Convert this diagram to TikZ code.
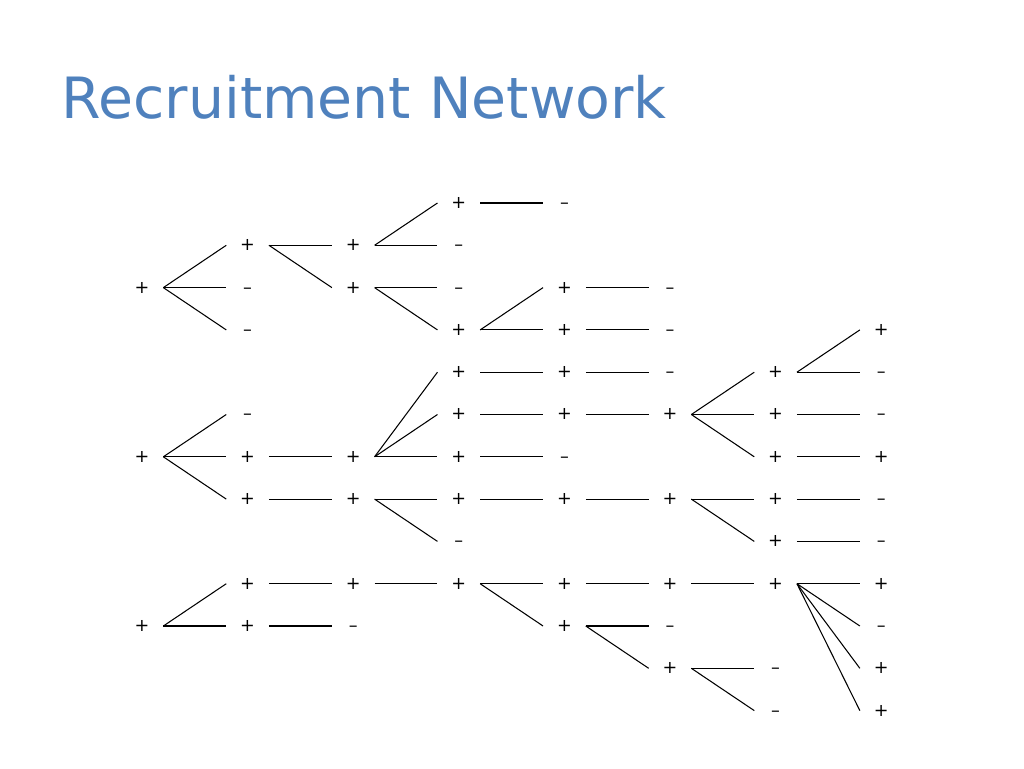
\documentclass[tikz,border=0pt]{standalone}
\usepackage{fontspec}
\setmainfont{DejaVu Sans}
\definecolor{titleblue}{RGB}{79,129,189}
\tikzset{
  sgn/.style={inner sep=0pt, minimum width=0.84cm, text height=0.62em, text depth=0pt, font=\fontsize{10pt}{12pt}\selectfont},
  tie/.style={line width=0.6pt}
}
\begin{document}
\begin{tikzpicture}[x=0.02cm, y=-0.02cm]
\useasboundingbox (0,0) rectangle (1024,768);
\node[anchor=base west, text=titleblue, font=\fontsize{32.4pt}{38pt}\selectfont, inner sep=0pt] (title) at (61,118) {Recruitment Network};
% signs: column/row/sign
\foreach \c/\r/\s in {0/2/+, 0/6/+, 0/10/+,
  1/1/+, 1/2/–, 1/3/–, 1/5/–, 1/6/+, 1/7/+, 1/9/+, 1/10/+,
  2/1/+, 2/2/+, 2/6/+, 2/7/+, 2/9/+, 2/10/–,
  3/0/+, 3/1/–, 3/2/–, 3/3/+, 3/4/+, 3/5/+, 3/6/+, 3/7/+, 3/8/–, 3/9/+,
  4/0/–, 4/2/+, 4/3/+, 4/4/+, 4/5/+, 4/6/–, 4/7/+, 4/9/+, 4/10/+,
  5/2/–, 5/3/–, 5/4/–, 5/5/+, 5/7/+, 5/9/+, 5/10/–, 5/11/+,
  6/4/+, 6/5/+, 6/6/+, 6/7/+, 6/8/+, 6/9/+, 6/11/–, 6/12/–,
  7/3/+, 7/4/–, 7/5/–, 7/6/+, 7/7/–, 7/8/–, 7/9/+, 7/10/–, 7/11/+, 7/12/+}
  \node[sgn] (n\c-\r) at ({142+105.6*\c},{203+42.3*\r}) {\s};
% recruitment ties
\foreach \a/\b in {0-2/1-1, 0-2/1-2, 0-2/1-3, 1-1/2-1, 1-1/2-2, 2-1/3-0, 2-1/3-1,
  2-2/3-2, 2-2/3-3, 3-0/4-0, 3-3/4-2, 3-3/4-3, 4-2/5-2, 4-3/5-3,
  0-6/1-5, 0-6/1-6, 0-6/1-7, 1-6/2-6, 1-7/2-7, 2-6/3-4, 2-6/3-5, 2-6/3-6,
  2-7/3-7, 2-7/3-8, 3-4/4-4, 3-5/4-5, 3-6/4-6, 3-7/4-7, 4-4/5-4, 4-5/5-5,
  4-7/5-7, 5-5/6-4, 5-5/6-5, 5-5/6-6, 5-7/6-7, 5-7/6-8, 6-4/7-3, 6-4/7-4,
  6-5/7-5, 6-6/7-6, 6-7/7-7, 6-8/7-8,
  0-10/1-9, 0-10/1-10, 1-9/2-9, 1-10/2-10, 2-9/3-9, 3-9/4-9, 3-9/4-10,
  4-9/5-9, 4-10/5-10, 4-10/5-11, 5-9/6-9, 5-11/6-11, 5-11/6-12,
  6-9/7-9, 6-9/7-10, 6-9/7-11, 6-9/7-12}
  \draw[tie] (n\a.east) -- (n\b.west);
\end{tikzpicture}
\end{document}
